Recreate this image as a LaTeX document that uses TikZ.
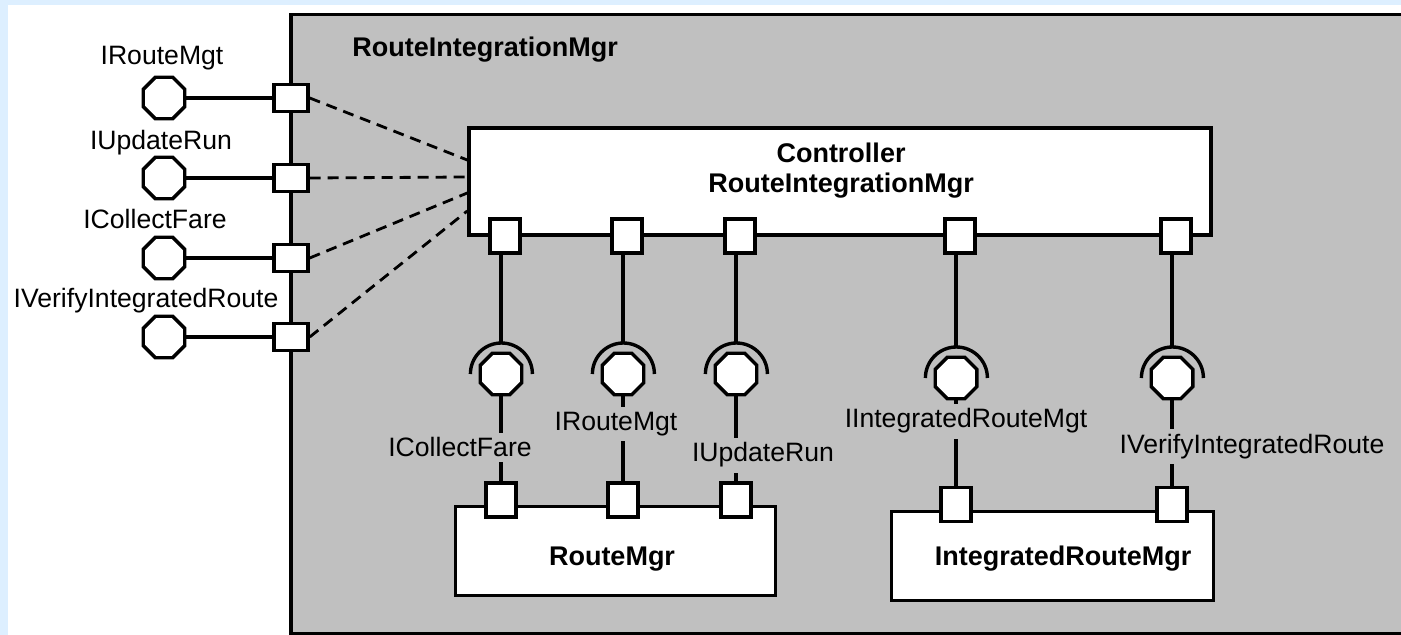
\documentclass[tikz,border=0pt]{standalone}
\usepackage{fontspec}
\setmainfont{Liberation Sans}
\usetikzlibrary{shapes.geometric,calc}

\definecolor{pageblue}{HTML}{DDEFFF}
\definecolor{compgray}{HTML}{C0C0C0}

\tikzset{
  lbl/.style={font=\fontsize{13.3}{16}\selectfont, inner sep=0pt},
  occl/.style={lbl, fill=compgray, inner sep=2.5pt},
  ttl/.style={font=\fontsize{13.5}{16}\selectfont\bfseries, inner sep=0pt},
  portl/.style={draw, fill=white, line width=1.7pt, minimum width=17pt, minimum height=13.5pt, inner sep=0pt},
  portv/.style={draw, fill=white, line width=1.7pt, minimum width=15pt, minimum height=17pt, inner sep=0pt},
  ball/.style={regular polygon, regular polygon sides=8, draw, fill=white, line width=1.7pt, minimum size=22.5pt, inner sep=0pt},
  sock/.style={circle, minimum size=31pt, inner sep=0pt},
  part/.style={draw, fill=white, line width=1.7pt, inner sep=0pt},
  wire/.style={line width=1.7pt},
  deleg/.style={line width=1.4pt, dash pattern=on 5.5pt off 3.5pt},
}

\begin{document}
\begin{tikzpicture}[x=0.5pt,y=-0.5pt]
  % page and frame
  \useasboundingbox (0,0) rectangle (1401,635);
  \clip (0,0) rectangle (1401,635);
  \fill[pageblue] (0,0) rectangle (1401,635);
  \fill[white] (8,5) rectangle (1401,635);

  % enclosing component
  \draw[fill=compgray, line width=1.7pt] (291,14.5) rectangle (1430,633.5);
  \node[ttl, anchor=base west] (outerTitle) at (352,57) {RouteIntegrationMgr};

  % controller part
  \node[part, minimum width=371pt, minimum height=53.5pt] (ctrl) at (840,181.5) {};
  \node[ttl, anchor=base] (ctrlA) at (841,163) {Controller};
  \node[ttl, anchor=base] (ctrlB) at (841,193) {RouteIntegrationMgr};

  % inner parts
  \node[part, minimum width=160pt, minimum height=44.75pt] (rm) at (615.5,551) {};
  \node[ttl, anchor=base] (rmT) at (612,565) {RouteMgr};
  \node[part, minimum width=161pt, minimum height=44.5pt] (irm) at (1052.5,556) {};
  \node[ttl, anchor=base] (irmT) at (1063,565) {IntegratedRouteMgr};

  % boundary ports and provided interfaces
  \foreach \i/\y in {1/98,2/178,3/258,4/337}{
    \node[portl] (pin\i) at (291,\y) {};
    \node[ball] (li\i) at (164,\y) {};
    \draw[wire] (li\i.east) -- (pin\i.west);
  }
  \node[lbl, anchor=base] (liT1) at (162,65) {IRouteMgt};
  \node[lbl, anchor=base] (liT2) at (161,150) {IUpdateRun};
  \node[lbl, anchor=base] (liT3) at (155,229) {ICollectFare};
  \node[lbl, anchor=base] (liT4) at (146,308) {IVerifyIntegratedRoute};

  % delegation connectors
  \draw[deleg] (pin1.east) -- ($(ctrl.west)+(0,-21.5)$);
  \draw[deleg] (pin2.east) -- ($(ctrl.west)+(0,-4.5)$);
  \draw[deleg] (pin3.east) -- ($(ctrl.west)+(0,11.5)$);
  \draw[deleg] (pin4.east) -- ($(ctrl.west)+(0,29.5)$);

  % assembly connectors: controller ports, sockets, balls, part ports
  \foreach \i/\x/\y in {1/501/374,2/623/374,3/736/374,4/956/378,5/1172/378}{
    \node[portv] (cp\i) at (\x+4,236) {};
    \node[sock] (s\i) at (\x,\y) {};
    \node[ball] (b\i) at (\x,\y) {};
    \draw[wire] (cp\i.south -| s\i.north) -- (s\i.north);
    \draw[wire] (s\i.east) arc[start angle=0, end angle=180, radius=15.5pt];
  }
  \node[portv] (lp1) at (501,500) {};
  \node[portv] (lp2) at (623,500) {};
  \node[portv] (lp3) at (736,500) {};
  \node[portv] (lp4) at (956,504.5) {};
  \node[portv] (lp5) at (1172,504.5) {};
  \foreach \i in {1,...,5}{
    \draw[wire] (b\i.south) -- (lp\i.north);
  }

  % interface names on the assembly connectors
  \node[occl, anchor=base] (aT1) at (460,457) {ICollectFare};
  \node[occl, anchor=base] (aT2) at (616,430) {IRouteMgt};
  \node[occl, anchor=base] (aT3) at (763,462) {IUpdateRun};
  \node[occl, anchor=base] (aT4) at (966,428) {IIntegratedRouteMgt};
  \node[occl, anchor=base] (aT5) at (1252,453) {IVerifyIntegratedRoute};
\end{tikzpicture}
\end{document}
